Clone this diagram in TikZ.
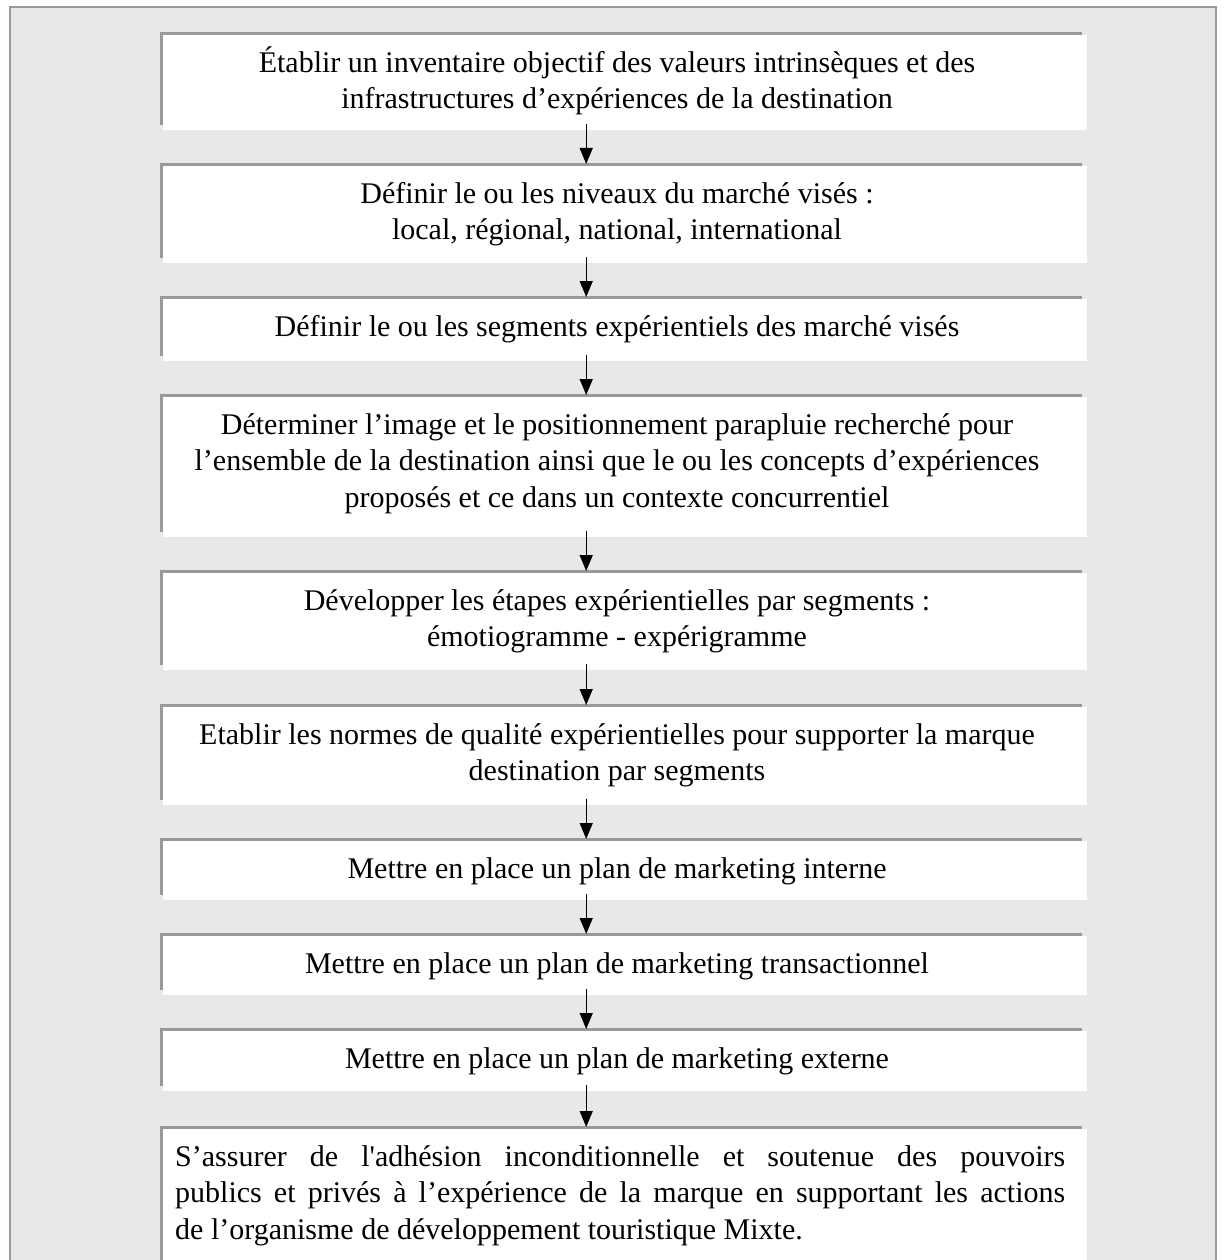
\documentclass[tikz,border=0pt]{standalone}
\usepackage{fontspec}
\setmainfont{Liberation Serif}
% family without the TeX quote mapping, so ' stays straight and ’ stays curly
\newfontfamily\flowfont{Liberation Serif}
\usetikzlibrary{arrows.meta}

\definecolor{framegray}{HTML}{999999}
\definecolor{panel}{HTML}{E8E8E8}

\tikzset{
  stepbox/.style={fill=white, draw=none, inner sep=0pt, anchor=north west, minimum width=924pt},
  steptext/.style={inner sep=0pt, anchor=north, align=center,
    font=\flowfont\fontsize{30}{36.5}\selectfont},
  flow/.style={-{Triangle[width=13pt,length=16pt]}, line width=1.3pt, draw=black},
}

% one step of the procedure: name, top edge, bottom edge, text
\newcommand\flowstep[4]{%
  \fill[framegray] (160,#2) rectangle (1082,{#3-5});
  \node[stepbox, minimum height={#3-#2-3}] (#1) at (163,{#2+3}) {};
  \node[steptext] (#1t) at (617,{#2+14.5}) {\strut #4};
}

\begin{document}
\begin{tikzpicture}[x=1pt, y=-1pt]
  \useasboundingbox (0,0) rectangle (1224,1260);
  \clip (0,0) rectangle (1224,1260);
  \fill[white] (0,0) rectangle (1224,1260);
  \draw[framegray, fill=panel, line width=2pt] (10,7) rectangle (1216,1290);

  \flowstep{s1}{32}{130}{Établir un inventaire objectif des valeurs intrinsèques et des\\infrastructures d’expériences de la destination}
  \flowstep{s2}{163}{263}{Définir le ou les niveaux du marché visés :\\local, régional, national, international}
  \flowstep{s3}{296}{361}{Définir le ou les segments expérientiels des marché visés}
  \flowstep{s4}{394}{537}{Déterminer l’image et le positionnement parapluie recherché pour\\l’ensemble de la destination ainsi que le ou les concepts d’expériences\\proposés et ce dans un contexte concurrentiel}
  \flowstep{s5}{570}{670}{Développer les étapes expérientielles par segments :\\émotiogramme - expérigramme}
  \flowstep{s6}{704}{805}{Etablir les normes de qualité expérientielles pour supporter la marque\\destination par segments}
  \flowstep{s7}{838}{900}{Mettre en place un plan de marketing interne}
  \flowstep{s8}{933}{995}{Mettre en place un plan de marketing transactionnel}
  \flowstep{s9}{1028}{1091}{Mettre en place un plan de marketing externe}

  % last step: justified paragraph
  \fill[framegray] (160,1126) rectangle (1082,1300);
  \node[stepbox, minimum height=170] (s10) at (163,1129) {};
  \node[inner sep=0pt, anchor=north west, text width=890pt, align=justify,
        font=\flowfont\fontsize{30}{36.5}\selectfont] (s10t) at (175,1140.5)
    {\strut S’assurer de l'adhésion inconditionnelle et soutenue des pouvoirs\linebreak
     publics et privés à l’expérience de la marque en supportant les actions\linebreak
     de l’organisme de développement touristique Mixte.};

  % connectors between consecutive steps
  \foreach \a/\b in {s1/s2, s2/s3, s3/s4, s4/s5, s5/s6, s6/s7, s7/s8, s8/s9, s9/s10}
    \draw[flow] ([xshift=-39pt, yshift=6pt]\a.south) -- ([xshift=-39pt, yshift=2pt]\b.north);
\end{tikzpicture}
\end{document}
